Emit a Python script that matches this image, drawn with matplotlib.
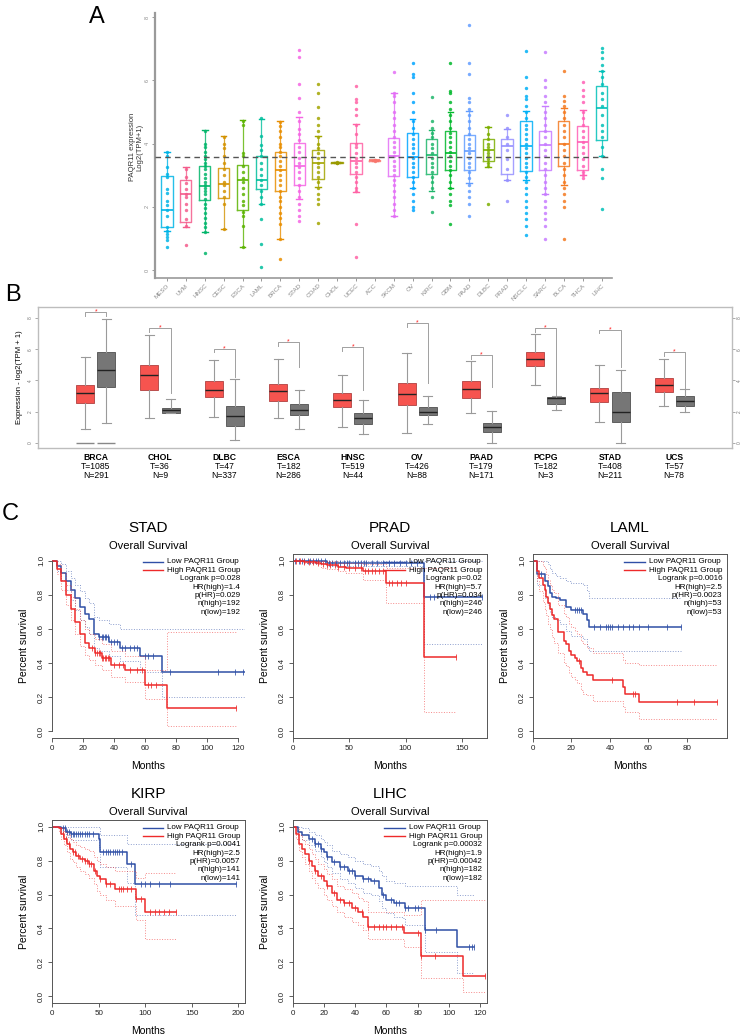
import matplotlib
matplotlib.use('Agg')
import matplotlib.pyplot as plt
import numpy as np

plt.rcParams['font.family'] = ['Liberation Sans', 'DejaVu Sans']

W, H = 740, 1036
fig = plt.figure(figsize=(W / 100, H / 100), dpi=100)


def axpx(l, t, r, b):
    return fig.add_axes([l / W, 1 - b / H, (r - l) / W, (b - t) / H])


# ---------------- Panel A data ----------------
a_cats = ['MESO', 'UVM', 'HNSC', 'CESC', 'ESCA', 'LAML', 'BRCA', 'STAD', 'COAD', 'CHOL',
          'UCEC', 'ACC', 'SKCM', 'OV', 'KIRC', 'GBM', 'PAAD', 'DLBC', 'PRAD', 'NSCLC',
          'SARC', 'BLCA', 'THCA', 'LIHC']
a_colors = ['#00B4E6', '#F45B8B', '#00B56A', '#D39200', '#5BB300', '#00BE9C', '#E88E00',
            '#F564E3', '#A3A500', '#9A9A00', '#FF62A5', '#F8766D', '#E36EF6', '#00A5FF',
            '#1DB56A', '#00B82B', '#619CFF', '#7CAE00', '#9590FF', '#00B0F6', '#C77CFF',
            '#F47920', '#FF5FB5', '#00C0B8']
a_q1 = [1.37, 1.53, 2.23, 2.29, 1.90, 2.55, 2.50, 2.70, 2.89, 3.38, 3.03, 3.46, 2.97, 2.93,
        3.05, 3.18, 3.18, 3.45, 3.03, 3.14, 3.18, 3.29, 3.16, 4.10]
a_med = [1.90, 2.40, 2.66, 2.72, 2.84, 2.86, 3.16, 3.28, 3.39, 3.39, 3.45, 3.47, 3.60, 3.58,
         3.63, 3.70, 3.76, 3.79, 3.92, 3.92, 3.95, 4.00, 4.05, 5.14]
a_q3 = [2.98, 2.84, 3.28, 3.23, 3.32, 3.62, 3.72, 4.02, 3.79, 3.41, 4.03, 3.48, 4.19, 4.32,
        4.16, 4.39, 4.28, 4.16, 4.16, 4.72, 4.40, 4.72, 4.57, 5.82]
a_wlo = [1.23, 1.37, 1.21, 1.29, 0.72, 2.10, 0.97, 2.24, 2.63, 3.38, 2.47, 3.46, 1.72, 2.61,
         2.50, 2.60, 2.74, 3.25, 2.84, 2.84, 2.40, 2.70, 3.00, 3.60]
a_whi = [3.74, 3.26, 4.42, 4.23, 4.74, 4.79, 4.70, 4.84, 4.23, 3.41, 4.63, 3.48, 5.60, 4.77,
         4.44, 5.00, 5.02, 4.52, 4.47, 5.03, 5.20, 5.14, 5.07, 6.29]
a_points = [
    [3.72, 3.62, 3.25, 3.05, 2.95, 2.55, 2.45, 2.2, 2.05, 1.9, 1.7, 1.35, 1.25, 1.15, 1.05, 0.95, 0.74],
    [3.2, 2.95, 2.75, 2.55, 2.4, 2.3, 2.1, 1.9, 1.6, 1.4, 0.8],
    [4.4, 4.0, 3.9, 3.75, 3.6, 3.5, 3.4, 3.3, 3.2, 3.05, 2.9, 2.8, 2.7, 2.6, 2.5, 2.4, 2.25, 2.1,
     1.95, 1.8, 1.65, 1.5, 1.35, 1.2, 0.53],
    [4.2, 4.0, 3.85, 3.6, 3.4, 3.2, 3.0, 2.8, 2.7, 2.5, 2.3, 2.1, 1.3],
    [4.72, 4.6, 3.7, 3.6, 3.3, 3.1, 2.9, 2.8, 2.6, 2.4, 2.2, 2.05, 1.85, 1.7, 1.4, 0.72],
    [4.8, 4.25, 3.95, 3.8, 3.6, 3.4, 3.2, 3.0, 2.85, 2.7, 2.5, 2.3, 2.1, 1.6, 0.82, 0.1],
    [4.68, 4.55, 4.4, 4.2, 4.0, 3.9, 3.75, 3.6, 3.45, 3.3, 3.15, 3.0, 2.85, 2.7, 2.5, 2.3, 2.2,
     2.0, 1.8, 1.65, 1.45, 0.97, 0.35],
    [6.95, 6.75, 5.9, 5.45, 5.0, 4.7, 4.45, 4.3, 4.1, 3.9, 3.75, 3.55, 3.4, 3.25, 3.1, 2.9, 2.7,
     2.5, 2.3, 2.1, 1.9, 1.7, 1.55],
    [5.9, 5.6, 5.15, 4.8, 4.6, 4.4, 4.2, 4.0, 3.85, 3.7, 3.55, 3.4, 3.25, 3.1, 2.95, 2.8, 2.6,
     2.4, 2.25, 2.1, 1.5],
    [3.4, 3.38, 3.42],
    [5.83, 5.4, 5.3, 5.1, 4.9, 4.6, 4.3, 4.0, 3.9, 3.7, 3.55, 3.4, 3.25, 3.1, 2.95, 2.8, 2.6,
     2.5, 1.47, 0.4],
    [3.47, 3.46, 3.48],
    [6.28, 5.6, 5.5, 5.3, 5.0, 4.8, 4.6, 4.4, 4.2, 4.05, 3.9, 3.75, 3.6, 3.45, 3.3, 3.15, 3.0,
     2.85, 2.7, 2.5, 2.3, 2.1, 1.9, 1.72],
    [6.55, 6.2, 6.1, 5.6, 5.3, 5.0, 4.7, 4.5, 4.3, 4.15, 4.0, 3.85, 3.7, 3.55, 3.4, 3.25, 3.1,
     2.95, 2.8, 2.6, 2.4, 2.2, 2.0, 1.9],
    [5.47, 4.7, 4.5, 4.35, 4.2, 4.0, 3.85, 3.7, 3.55, 3.4, 3.25, 3.1, 2.95, 2.8, 2.6, 2.3, 1.85],
    [6.55, 5.65, 5.6, 5.3, 5.1, 4.9, 4.7, 4.5, 4.35, 4.2, 4.05, 3.9, 3.75, 3.6, 3.45, 3.3, 3.15,
     3.0, 2.8, 2.6, 2.4, 2.2, 2.05, 1.45],
    [7.75, 6.55, 6.2, 5.45, 5.3, 5.1, 4.9, 4.7, 4.5, 4.3, 4.15, 4.0, 3.85, 3.7, 3.55, 3.4, 3.25,
     3.1, 2.9, 2.7, 2.5, 2.3, 2.1, 1.72],
    [4.52, 4.3, 4.15, 4.0, 3.9, 3.8, 3.7, 3.6, 3.5, 3.4, 3.3, 2.1],
    [4.9, 4.5, 4.2, 4.0, 3.8, 3.5, 3.2, 2.85, 2.2],
    [6.93, 6.1, 5.75, 5.5, 5.4, 5.2, 5.0, 4.8, 4.6, 4.45, 4.3, 4.15, 4.0, 3.85, 3.7, 3.55, 3.4,
     3.25, 3.1, 2.95, 2.8, 2.6, 2.4, 2.2, 2.0, 1.8, 1.6, 1.4, 1.1],
    [6.9, 6.0, 5.8, 5.5, 5.3, 5.0, 4.8, 4.6, 4.4, 4.2, 4.0, 3.8, 3.6, 3.4, 3.2, 3.0, 2.8, 2.6,
     2.4, 2.2, 2.0, 1.8, 1.6, 1.4, 0.98],
    [6.3, 5.5, 5.35, 5.2, 5.0, 4.8, 4.6, 4.4, 4.2, 4.0, 3.8, 3.6, 3.4, 3.2, 3.0, 2.8, 2.6, 2.4,
     2.2, 2.0, 0.98],
    [5.94, 5.7, 5.5, 5.3, 5.0, 4.8, 4.6, 4.4, 4.2, 4.05, 3.9, 3.7, 3.5, 3.3, 3.1, 3.0, 2.9],
    [7.03, 6.9, 6.7, 6.5, 6.3, 6.1, 5.9, 5.6, 5.4, 5.2, 4.9, 4.6, 4.4, 4.2, 3.9, 3.6, 3.2, 2.9, 1.93],
]
a_ref_line = 3.57
a_yticks = [0, 2, 4, 6, 8]

# ---------------- Panel B data ----------------
b_cats = ['BRCA', 'CHOL', 'DLBC', 'ESCA', 'HNSC', 'OV', 'PAAD', 'PCPG', 'STAD', 'UCS']
b_nT = [1085, 36, 47, 182, 519, 426, 179, 182, 408, 57]
b_nN = [291, 9, 337, 286, 44, 88, 171, 3, 211, 78]
b_t_q1 = [2.57, 3.38, 2.94, 2.70, 2.28, 2.43, 2.85, 4.94, 2.60, 3.28]
b_t_med = [3.17, 4.38, 3.38, 3.30, 2.72, 3.11, 3.45, 5.40, 3.17, 3.74]
b_t_q3 = [3.74, 4.98, 3.94, 3.79, 3.21, 3.81, 3.94, 5.81, 3.55, 4.17]
b_t_lo = [0.87, 1.62, 1.66, 1.62, 1.02, 0.66, 1.89, 3.68, 1.32, 2.38]
b_t_hi = [5.47, 6.94, 5.30, 5.38, 4.36, 5.77, 5.23, 6.96, 5.02, 5.36]
b_n_q1 = [3.57, 1.94, 1.11, 1.77, 1.21, 1.77, 0.72, 2.47, 1.36, 2.38]
b_n_med = [4.64, 2.10, 1.72, 2.10, 1.57, 2.00, 1.02, 2.87, 1.96, 2.68]
b_n_q3 = [5.79, 2.26, 2.36, 2.47, 1.89, 2.30, 1.26, 2.96, 3.28, 2.98]
b_n_lo = [1.26, 1.90, 0.19, 0.89, 0.55, 1.21, 0.00, 2.09, 0.00, 1.98]
b_n_hi = [7.91, 2.81, 4.10, 3.38, 2.74, 2.98, 2.04, 3.00, 4.70, 3.43]
b_bracket = [8.38, 7.36, 6.04, 6.47, 6.13, 7.66, 5.62, 7.36, 7.26, 5.81]
b_bracket_right_end = [8.10, 3.17, 4.23, 4.83, 3.38, 3.81, 3.60, 3.06, 4.83, 3.53]
b_zero_rows = ['BRCA']
b_yticks = [0, 2, 4, 6, 8]

# ---------------- Panel C data ----------------
stad_low_t = [0, 3, 6, 9, 12, 15, 18, 21, 24, 27, 30, 37, 44, 57, 71, 125]
stad_low_s = [1.0, 0.97, 0.93, 0.88, 0.83, 0.78, 0.73, 0.69, 0.66, 0.57, 0.55, 0.525, 0.49, 0.44, 0.35, 0.35]
stad_low_up = [1.0, 1.0, 0.98, 0.94, 0.90, 0.86, 0.82, 0.78, 0.75, 0.67, 0.65, 0.63, 0.60, 0.60, 0.60, 0.60]
stad_low_lo = [1.0, 0.94, 0.89, 0.83, 0.77, 0.71, 0.65, 0.61, 0.57, 0.49, 0.47, 0.44, 0.41, 0.35, 0.20, 0.20]
stad_low_c = [30, 32, 33, 34, 35, 36, 38, 40, 42, 45, 47, 50, 53, 55, 60, 62, 65, 76, 107, 118, 123]
stad_high_t = [0, 3, 6, 9, 12, 15, 18, 21, 24, 28, 32, 38, 47, 60, 74, 119]
stad_high_s = [1.0, 0.95, 0.88, 0.80, 0.72, 0.64, 0.57, 0.52, 0.49, 0.46, 0.43, 0.39, 0.36, 0.27, 0.135, 0.135]
stad_high_up = [1.0, 0.98, 0.93, 0.86, 0.79, 0.72, 0.65, 0.60, 0.57, 0.54, 0.51, 0.47, 0.44, 0.36, 0.58, 0.58]
stad_high_lo = [1.0, 0.92, 0.83, 0.74, 0.65, 0.57, 0.50, 0.45, 0.42, 0.39, 0.36, 0.32, 0.29, 0.19, 0.03, 0.03]
stad_high_c = [26, 28, 29, 30, 31, 32, 33, 34, 35, 36, 37, 40, 43, 46, 50, 55, 58, 62, 64, 67, 119]

prad_low_t = [0, 10, 30, 116, 168]
prad_low_s = [1.0, 1.0, 0.99, 0.79, 0.79]
prad_low_up = [1.0, 1.0, 1.0, 1.0, 1.0]
prad_low_lo = [1.0, 0.99, 0.97, 0.51, 0.51]
prad_low_c = [2, 5, 8, 10, 13, 15, 18, 20, 22, 25, 28, 32, 35, 38, 42, 45, 48, 50, 55, 58, 60, 63,
              65, 70, 75, 80, 85, 90, 95, 100, 105, 110, 122, 125, 168]
prad_high_t = [0, 10, 20, 25, 30, 40, 47, 62, 83, 116, 145]
prad_high_s = [1.0, 0.995, 0.99, 0.98, 0.975, 0.965, 0.96, 0.94, 0.87, 0.435, 0.435]
prad_high_up = [1.0, 1.0, 1.0, 1.0, 1.0, 0.99, 0.99, 0.98, 0.96, 0.96, 0.96]
prad_high_lo = [1.0, 0.99, 0.98, 0.96, 0.95, 0.94, 0.93, 0.89, 0.75, 0.11, 0.11]
prad_high_c = [3, 6, 10, 14, 18, 22, 27, 30, 33, 37, 40, 45, 50, 55, 60, 64, 67, 70, 73, 76, 80,
               85, 88, 92, 96, 100, 145]

laml_low_t = [0, 2, 6, 8, 9, 10, 12, 14, 17, 20, 26, 28, 29, 77]
laml_low_s = [1.0, 0.925, 0.88, 0.85, 0.81, 0.79, 0.78, 0.77, 0.73, 0.71, 0.69, 0.65, 0.61, 0.61]
laml_low_up = [1.0, 1.0, 1.0, 0.98, 0.95, 0.93, 0.91, 0.90, 0.88, 0.87, 0.86, 0.82, 0.78, 0.78]
laml_low_lo = [1.0, 0.86, 0.78, 0.74, 0.70, 0.67, 0.65, 0.63, 0.59, 0.56, 0.54, 0.50, 0.47, 0.47]
laml_low_c = [4, 22, 23, 24, 25, 32, 35, 38, 39, 40, 41, 44, 47, 50, 52, 55, 60, 70, 77]
laml_high_t = [0, 2, 3, 5, 6, 7, 8, 9, 10, 11, 13, 16, 17, 19, 20, 22, 23, 25, 26, 28, 31, 47, 48, 55, 96]
laml_high_s = [1.0, 0.94, 0.90, 0.86, 0.83, 0.79, 0.75, 0.72, 0.68, 0.66, 0.585, 0.53, 0.51, 0.47,
               0.45, 0.43, 0.41, 0.37, 0.35, 0.33, 0.30, 0.26, 0.22, 0.17, 0.17]
laml_high_up = [1.0, 1.0, 1.0, 0.97, 0.95, 0.92, 0.89, 0.86, 0.83, 0.81, 0.74, 0.69, 0.67, 0.63,
                0.61, 0.59, 0.57, 0.53, 0.51, 0.49, 0.46, 0.42, 0.40, 0.39, 0.39]
laml_high_lo = [1.0, 0.88, 0.82, 0.76, 0.72, 0.68, 0.63, 0.60, 0.55, 0.52, 0.46, 0.40, 0.38, 0.34,
                0.32, 0.30, 0.28, 0.24, 0.22, 0.21, 0.18, 0.14, 0.11, 0.07, 0.07]
laml_high_c = [24, 41, 52, 53, 75, 84, 96]

kirp_low_t = [0, 5, 10, 15, 20, 45, 50, 52, 78, 80, 88, 89, 197]
kirp_low_s = [1.0, 1.0, 0.99, 0.97, 0.96, 0.96, 0.93, 0.85, 0.85, 0.78, 0.78, 0.66, 0.66]
kirp_low_up = [1.0, 1.0, 1.0, 1.0, 1.0, 1.0, 0.99, 0.95, 0.95, 0.90, 0.90, 0.90, 0.90]
kirp_low_lo = [1.0, 1.0, 0.97, 0.94, 0.92, 0.92, 0.88, 0.76, 0.76, 0.67, 0.67, 0.48, 0.48]
kirp_low_c = [12, 14, 16, 18, 20, 22, 24, 26, 28, 30, 32, 35, 38, 40, 44, 55, 58, 60, 62, 65, 68,
              70, 72, 75, 85, 95, 100, 105, 115, 127, 197]
kirp_high_t = [0, 8, 10, 13, 16, 19, 22, 26, 30, 35, 40, 45, 48, 52, 58, 68, 90, 100, 133]
kirp_high_s = [1.0, 0.99, 0.96, 0.93, 0.90, 0.87, 0.85, 0.83, 0.81, 0.80, 0.78, 0.74, 0.71, 0.69,
               0.665, 0.635, 0.575, 0.50, 0.50]
kirp_high_up = [1.0, 1.0, 0.99, 0.97, 0.95, 0.93, 0.91, 0.89, 0.88, 0.87, 0.86, 0.82, 0.80, 0.78,
                0.76, 0.74, 0.70, 0.73, 0.73]
kirp_high_lo = [1.0, 0.97, 0.93, 0.89, 0.85, 0.81, 0.79, 0.76, 0.74, 0.72, 0.70, 0.66, 0.62, 0.60,
                0.57, 0.53, 0.45, 0.34, 0.34]
kirp_high_c = [12, 15, 18, 22, 25, 28, 32, 35, 38, 40, 42, 46, 52, 58, 62, 72, 74, 76, 80, 85, 90,
               95, 105, 110, 115, 120, 125, 133]

lihc_low_t = [0, 3, 6, 10, 14, 18, 20, 22, 25, 30, 35, 40, 45, 50, 55, 57, 60, 65, 70, 72, 85, 105, 116]
lihc_low_s = [1.0, 0.97, 0.95, 0.93, 0.90, 0.87, 0.85, 0.82, 0.79, 0.76, 0.74, 0.71, 0.69, 0.68,
              0.64, 0.60, 0.57, 0.55, 0.55, 0.52, 0.39, 0.29, 0.29]
lihc_low_up = [1.0, 1.0, 0.99, 0.97, 0.95, 0.93, 0.91, 0.89, 0.86, 0.84, 0.82, 0.80, 0.78, 0.77,
               0.74, 0.71, 0.68, 0.67, 0.67, 0.65, 0.65, 0.60, 0.60]
lihc_low_lo = [1.0, 0.95, 0.92, 0.89, 0.86, 0.82, 0.79, 0.76, 0.73, 0.69, 0.67, 0.64, 0.61, 0.60,
               0.56, 0.52, 0.49, 0.47, 0.46, 0.42, 0.26, 0.14, 0.14]
lihc_low_c = [12, 14, 16, 18, 22, 26, 30, 33, 36, 38, 40, 45, 48, 52, 58, 63, 66, 68, 72, 74, 78,
              80, 85, 92, 113, 115, 116]
lihc_high_t = [0, 2, 4, 6, 8, 10, 12, 14, 16, 20, 22, 25, 28, 33, 38, 42, 45, 48, 71, 82, 109, 123]
lihc_high_s = [1.0, 0.96, 0.90, 0.87, 0.84, 0.80, 0.77, 0.74, 0.71, 0.68, 0.65, 0.61, 0.57, 0.55,
               0.52, 0.50, 0.47, 0.41, 0.375, 0.24, 0.12, 0.12]
lihc_high_up = [1.0, 0.99, 0.95, 0.92, 0.90, 0.87, 0.84, 0.81, 0.78, 0.75, 0.72, 0.69, 0.65, 0.63,
                0.61, 0.58, 0.56, 0.50, 0.48, 0.57, 0.57, 0.57]
lihc_high_lo = [1.0, 0.93, 0.86, 0.82, 0.78, 0.74, 0.70, 0.67, 0.64, 0.60, 0.57, 0.53, 0.50, 0.47,
                0.44, 0.42, 0.39, 0.34, 0.29, 0.11, 0.025, 0.025]
lihc_high_c = [10, 14, 18, 22, 26, 30, 33, 36, 40, 44, 48, 52, 55, 58, 60, 63, 66, 70, 80, 82, 91, 123]

c_titles = ['STAD', 'PRAD', 'LAML', 'KIRP', 'LIHC']
c_logrank = ['0.028', '0.02', '0.0016', '0.0041', '0.00032']
c_hr = ['1.4', '5.7', '2.5', '2.5', '1.9']
c_phr = ['0.029', '0.034', '0.0023', '0.0057', '0.00042']
c_nhigh = [192, 246, 53, 141, 182]
c_nlow = [192, 246, 53, 141, 182]
c_xticks = [[0, 20, 40, 60, 80, 100, 120], [0, 50, 100, 150], [0, 20, 40, 60, 80],
            [0, 50, 100, 150, 200], [0, 20, 40, 60, 80, 100, 120]]
c_xmax = [124.5, 172.4, 101.0, 207.0, 124.5]

# ================= Panel A =================
axA = axpx(155, 13, 612, 278)
xa = np.arange(len(a_cats))
statsA = [dict(med=m, q1=q1, q3=q3, whislo=lo, whishi=hi, fliers=[])
          for m, q1, q3, lo, hi in zip(a_med, a_q1, a_q3, a_wlo, a_whi)]
bA = axA.bxp(statsA, positions=xa, widths=0.6, showfliers=False, patch_artist=False,
             manage_ticks=False)
for i, c in enumerate(a_colors):
    bA['boxes'][i].set(color=c, linewidth=1.0, alpha=0.85)
    bA['medians'][i].set(color=c, linewidth=1.2)
    for k in (2 * i, 2 * i + 1):
        bA['whiskers'][k].set(color=c, linewidth=0.9, alpha=0.8)
        bA['caps'][k].set(color=c, linewidth=1.0)
    pts = a_points[i]
    axA.scatter(np.full(len(pts), xa[i]), pts, s=6, color=c, alpha=0.85, linewidths=0, zorder=3)
axA.axhline(a_ref_line, color='#555555', linestyle=(0, (4, 3)), linewidth=1.0, zorder=4)
axA.set_xlim(-0.63, 23.55)
axA.set_ylim(-0.25, 8.13)
axA.set_xticks(xa)
axA.set_xticklabels(a_cats, rotation=45, ha='right', rotation_mode='anchor', fontsize=4.5,
                    color='#8A8A8A')
axA.set_yticks(a_yticks)
axA.set_yticklabels([str(v) for v in a_yticks], rotation=90, fontsize=4, color='#8A8A8A',
                    va='center')
axA.tick_params(axis='both', length=2, width=0.6, color='#888888', pad=1.5)
for s in ('top', 'right'):
    axA.spines[s].set_visible(False)
axA.spines['left'].set(color='#9A9A9A', linewidth=1.6)
axA.spines['bottom'].set(color='#9A9A9A', linewidth=1.2)
fig.text(136 / W, 1 - 147 / H, 'PAQR11 expression\nLog2(TPM+1)', rotation=90, ha='center',
         va='center', fontsize=5.5, color='#333333', linespacing=1.1)
fig.text(97 / W, 1 - 17 / H, 'A', fontsize=17, ha='center', va='center')

# ================= Panel B =================
axB = axpx(38, 307, 732, 448)
xb = np.arange(1, len(b_cats) + 1)
off = 0.165
statsT = [dict(med=m, q1=q1, q3=q3, whislo=lo, whishi=hi, fliers=[])
          for m, q1, q3, lo, hi in zip(b_t_med, b_t_q1, b_t_q3, b_t_lo, b_t_hi)]
statsN = [dict(med=m, q1=q1, q3=q3, whislo=lo, whishi=hi, fliers=[])
          for m, q1, q3, lo, hi in zip(b_n_med, b_n_q1, b_n_q3, b_n_lo, b_n_hi)]
common = dict(widths=0.28, showfliers=False, patch_artist=True, manage_ticks=False,
              medianprops=dict(color='#222222', linewidth=1.0),
              whiskerprops=dict(color='#9A9A9A', linewidth=0.8),
              capprops=dict(color='#9A9A9A', linewidth=0.8))
axB.bxp(statsT, positions=xb - off, boxprops=dict(facecolor='#F6544F', edgecolor='#B04040',
                                                  linewidth=0.6), **common)
axB.bxp(statsN, positions=xb + off, boxprops=dict(facecolor='#767676', edgecolor='#505050',
                                                  linewidth=0.6), **common)
for i, cat in enumerate(b_cats):
    x0, x1 = xb[i] - off, xb[i] + off
    yb = b_bracket[i]
    axB.plot([x0, x0, x1, x1], [yb - 0.25, yb, yb, b_bracket_right_end[i]], color='#A0A0A0',
             linewidth=0.7)
    axB.text((x0 + x1) / 2, yb, '*', color='#FF2020', fontsize=5, ha='center', va='center')
    if cat in b_zero_rows:
        axB.hlines([0, 0], [x0 - 0.14, x1 - 0.14], [x0 + 0.14, x1 + 0.14], color='#888888',
                   linewidth=1.0)
axB.set_xlim(0.1, 10.9)
axB.set_ylim(-0.32, 8.7)
axB.set_xticks(xb)
axB.set_xticklabels([])
axB.tick_params(axis='x', length=0)
axB.set_yticks(b_yticks)
axB.set_yticklabels([str(v) for v in b_yticks], rotation=90, fontsize=3.5, color='#777777',
                    va='center')
axB.tick_params(axis='y', left=True, right=True, labelleft=True, labelright=True, length=2,
                width=0.5, color='#888888', pad=1.5)
for s in axB.spines.values():
    s.set(color='#BDBDBD', linewidth=1.0)
for i, cat in enumerate(b_cats):
    axB.text(xb[i], -0.32 - 9 / 15.6 * 1.0, cat, fontsize=6.2, fontweight='bold', ha='center',
             va='center')
    axB.text(xb[i], -0.32 - 18 / 15.6, 'T=%d' % b_nT[i], fontsize=6.2, ha='center', va='center')
    axB.text(xb[i], -0.32 - 27 / 15.6, 'N=%d' % b_nN[i], fontsize=6.2, ha='center', va='center')
fig.text(20 / W, 1 - 377 / H, 'Expression - log2(TPM + 1)', rotation=90, ha='center',
         va='center', fontsize=5.5)
fig.text(13 / W, 1 - 295 / H, 'B', fontsize=17, ha='center', va='center')

# ================= Panel C =================
fig.text(10 / W, 1 - 514 / H, 'C', fontsize=17, ha='center', va='center')
BLUE = '#2F4FA6'
RED = '#EE2A2A'

c_rects = [(52, 554, 245, 738), (293, 554, 487, 738), (533, 554, 727, 738),
           (52, 820, 245, 1003), (293, 820, 487, 1003)]
c_data = [
    (stad_low_t, stad_low_s, stad_low_up, stad_low_lo, stad_low_c,
     stad_high_t, stad_high_s, stad_high_up, stad_high_lo, stad_high_c),
    (prad_low_t, prad_low_s, prad_low_up, prad_low_lo, prad_low_c,
     prad_high_t, prad_high_s, prad_high_up, prad_high_lo, prad_high_c),
    (laml_low_t, laml_low_s, laml_low_up, laml_low_lo, laml_low_c,
     laml_high_t, laml_high_s, laml_high_up, laml_high_lo, laml_high_c),
    (kirp_low_t, kirp_low_s, kirp_low_up, kirp_low_lo, kirp_low_c,
     kirp_high_t, kirp_high_s, kirp_high_up, kirp_high_lo, kirp_high_c),
    (lihc_low_t, lihc_low_s, lihc_low_up, lihc_low_lo, lihc_low_c,
     lihc_high_t, lihc_high_s, lihc_high_up, lihc_high_lo, lihc_high_c),
]


def draw_group(ax, t, s, up, lo, cens, color):
    t = np.asarray(t, float)
    s = np.asarray(s, float)
    ax.step(t, up, where='post', color=color, linestyle=':', linewidth=0.7, alpha=0.55)
    ax.step(t, lo, where='post', color=color, linestyle=':', linewidth=0.7, alpha=0.55)
    ax.step(t, s, where='post', color=color, linewidth=1.1)
    idx = np.clip(np.searchsorted(t, np.asarray(cens, float), side='right') - 1, 0, len(s) - 1)
    ax.plot(cens, s[idx], linestyle='none', marker='|', markersize=4, mew=0.7, color=color,
            alpha=0.8)


for k, (l, t, r, b) in enumerate(c_rects):
    ax = axpx(l, t, r, b)
    hpx = b - t
    d = c_data[k]
    draw_group(ax, *d[0:5], BLUE)
    draw_group(ax, *d[5:10], RED)
    ax.set_xlim(0, c_xmax[k])
    ax.set_ylim(-0.04, 1.04)
    ax.set_xticks(c_xticks[k])
    ax.set_xticklabels([str(v) for v in c_xticks[k]], fontsize=5.8, color='#222222')
    ax.set_yticks([0, 0.2, 0.4, 0.6, 0.8, 1.0])
    ax.set_yticklabels(['0.0', '0.2', '0.4', '0.6', '0.8', '1.0'], rotation=90, va='center',
                       fontsize=5.8, color='#222222')
    ax.tick_params(length=3, width=0.6, color='#444444', pad=2)
    for sp in ax.spines.values():
        sp.set(color='#555555', linewidth=0.7)
    if k == 0:
        ax.spines['top'].set_visible(False)
        ax.spines['right'].set_visible(False)
        ax.spines['left'].set_bounds(0, 1)
        ax.spines['bottom'].set_bounds(0, 120)
    ax.text(0.5, 1 + 26 / hpx, c_titles[k], transform=ax.transAxes, ha='center', va='center',
            fontsize=11)
    ax.text(0.5, 1 + 8 / hpx, 'Overall Survival', transform=ax.transAxes, ha='center',
            va='center', fontsize=8)
    ax.text(0.5, -28 / hpx, 'Months', transform=ax.transAxes, ha='center', va='center',
            fontsize=7.5)
    ax.text(-28 / 193, 0.5, 'Percent survival', transform=ax.transAxes, ha='center',
            va='center', rotation=90, fontsize=7.5)
    # legend
    y0 = 0.957
    dy = 8.4 / hpx
    ax.plot([0.47, 0.575], [y0, y0], color=BLUE, linewidth=1.0, transform=ax.transAxes)
    ax.plot([0.47, 0.575], [y0 - dy, y0 - dy], color=RED, linewidth=1.0, transform=ax.transAxes)
    ax.text(0.596, y0, 'Low PAQR11 Group', transform=ax.transAxes, fontsize=5.8, ha='left',
            va='center')
    ax.text(0.596, y0 - dy, 'High PAQR11 Group', transform=ax.transAxes, fontsize=5.8,
            ha='left', va='center')
    lines = ['Logrank p=%s' % c_logrank[k], 'HR(high)=%s' % c_hr[k], 'p(HR)=%s' % c_phr[k],
             'n(high)=%d' % c_nhigh[k], 'n(low)=%d' % c_nlow[k]]
    for j, txt in enumerate(lines):
        ax.text(0.975, y0 - (j + 2) * dy, txt, transform=ax.transAxes, fontsize=5.8,
                ha='right', va='center')

fig.savefig('out.png', dpi=100)
